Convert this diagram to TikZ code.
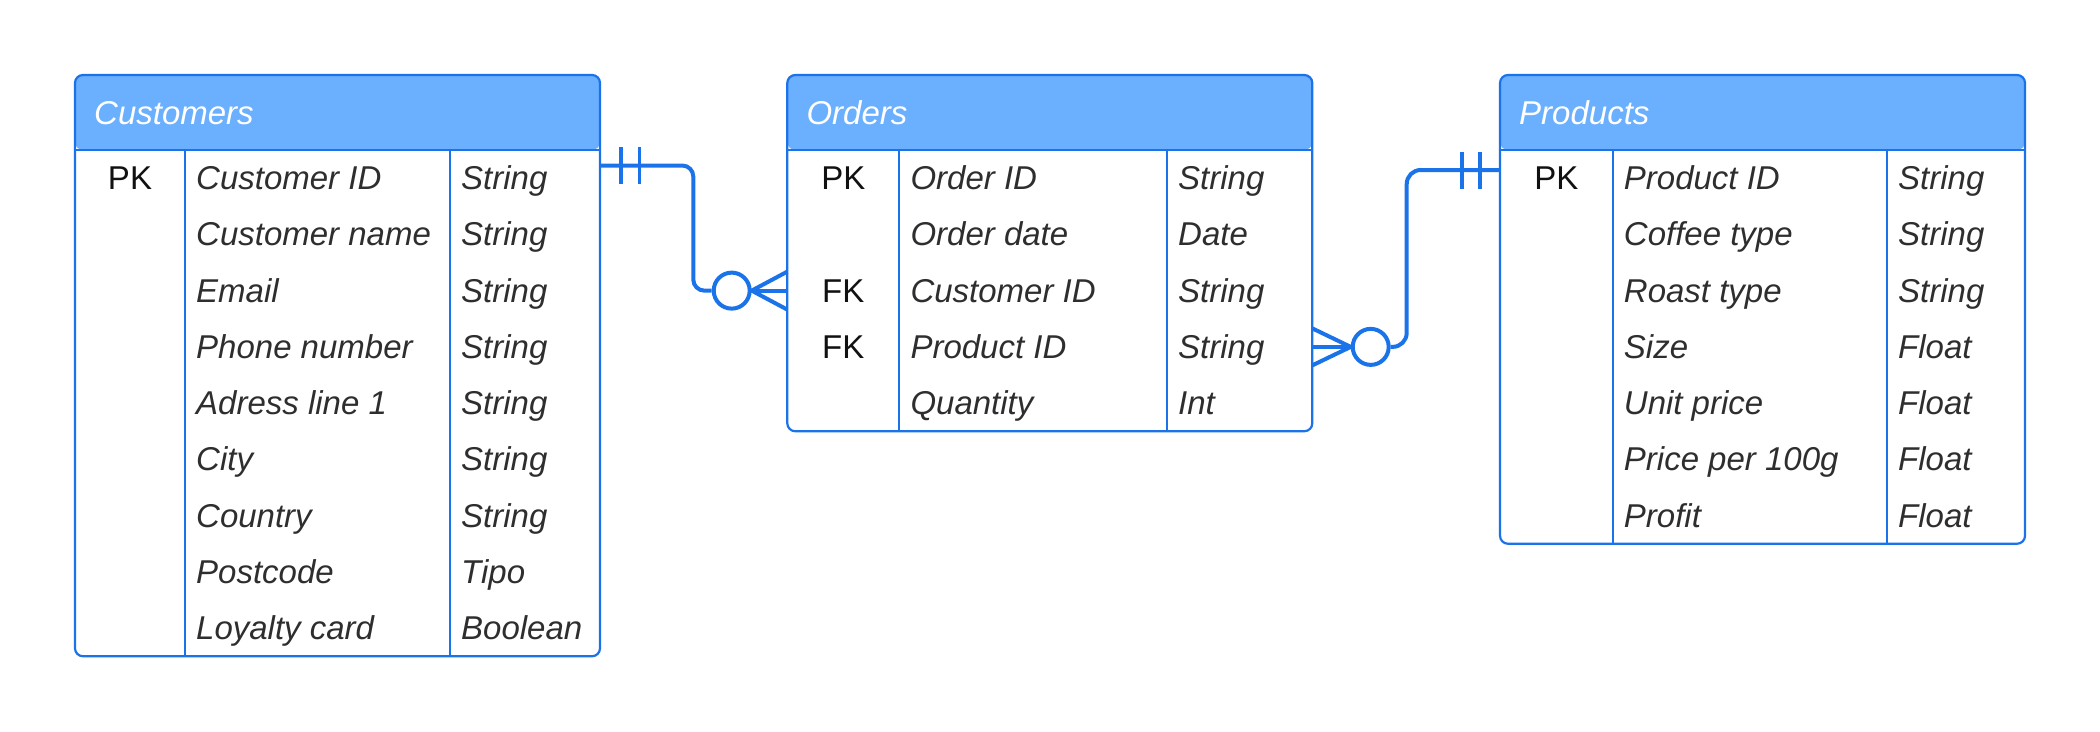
\documentclass[tikz,border=0pt]{standalone}
\usepackage{fontspec}
\setmainfont{Liberation Sans}
\definecolor{bord}{HTML}{1A73E8}
\definecolor{hfill}{HTML}{6BAFFF}
\definecolor{txtc}{HTML}{2E2E2E}
\definecolor{keyc}{HTML}{111111}
\newcommand\tabfont{\fontsize{33}{39}\selectfont}
\tikzset{
  tbl/.style={draw=bord, line width=2.2pt, rounded corners=8pt, anchor=north west,
    inner sep=0pt, outer sep=0pt,
    path picture={\fill[hfill] (path picture bounding box.north west) rectangle
      ([yshift=-75pt]path picture bounding box.north east);}},
  tline/.style={draw=bord, line width=2.2pt},
  hdtxt/.style={anchor=base west, text=white, font=\tabfont\itshape, inner sep=0pt},
  keytxt/.style={anchor=base, text=keyc, font=\tabfont, inner sep=0pt},
  fldtxt/.style={anchor=base west, text=txtc, font=\tabfont\itshape, inner sep=0pt},
  conn/.style={draw=bord, line width=4pt, line join=round},
  tick/.style={draw=bord, line width=3.6pt},
  optc/.style={circle, draw=bord, line width=4pt, minimum size=36pt, inner sep=0pt, fill=white}
}
% name, x-left, x-right, divider1, divider2, rows, title, fields
\newcommand\ertbl[8]{%
  \pgfmathsetmacro\tblb{150+#6*56.25}%
  \node[tbl, minimum width={(#3-#2)*1pt}, minimum height={(\tblb-75)*1pt}] (#1) at (#2,75) {};
  \draw[tline] (#2,150) -- (#3,150);
  \draw[tline] (#4,150) -- (#4,\tblb);
  \draw[tline] (#5,150) -- (#5,\tblb);
  \node[hdtxt] (#1-title) at (#2+19,124) {#7};
  \foreach \fn/\ft [count=\i] in {#8} {
    \pgfmathsetmacro\yc{150+(\i-0.5)*56.25}
    \coordinate (#1-w\i) at (#2,\yc);
    \coordinate (#1-e\i) at (#3,\yc);
    \node[fldtxt] (#1-n\i) at (#4+11,\yc+11.5) {\fn};
    \node[fldtxt] (#1-t\i) at (#5+11,\yc+11.5) {\ft};
  }
}
\begin{document}
\begin{tikzpicture}[x=1pt, y=-1pt]
\useasboundingbox (0,0) rectangle (2100,731);

\ertbl{cust}{75}{600}{185}{450}{9}{Customers}{Customer ID/String,Customer name/String,Email/String,Phone number/String,Adress line 1/String,City/String,Country/String,Postcode/Tipo,Loyalty card/Boolean}
\node[keytxt] (cust-k1) at (130,189.6) {PK};

\ertbl{ord}{787.3}{1312.3}{899.3}{1167}{5}{Orders}{Order ID/String,Order date/Date,Customer ID/String,Product ID/String,Quantity/Int}
\node[keytxt] (ord-k1) at (843.3,189.6) {PK};
\node[keytxt] (ord-k3) at (843.3,302.1) {FK};
\node[keytxt] (ord-k4) at (843.3,358.4) {FK};

\ertbl{prod}{1500}{2025}{1612.7}{1887}{7}{Products}{Product ID/String,Coffee type/String,Roast type/String,Size/Float,Unit price/Float,Price per 100g/Float,Profit/Float}
\node[keytxt] (prod-k1) at (1556.3,189.6) {PK};

% Customers -> Orders
\coordinate (c1a) at (cust.east |- 0,165.5);
\node[optc] (o1) at ([xshift=-55.6pt]ord-w3) {};
\draw[conn, rounded corners=11pt] (c1a) -| ([xshift=-18.4pt]o1.west) -- (o1.west);
\draw[tick] ([xshift=20.7pt,yshift=18.5pt]c1a) -- ([xshift=20.7pt,yshift=-18.5pt]c1a);
\draw[tick] ([xshift=39.3pt,yshift=18.5pt]c1a) -- ([xshift=39.3pt,yshift=-18.5pt]c1a);
\draw[conn] ([yshift=19pt]ord-w3) -- (o1.east) -- ([yshift=-19pt]ord-w3);
\draw[conn] (o1.east) -- (ord-w3);

% Orders -> Products
\coordinate (c2a) at (prod.west |- 0,170);
\node[optc] (o2) at ([xshift=58.4pt]ord-e4) {};
\draw[conn, rounded corners=14pt] (o2.east) -- ([xshift=16pt]o2.east) |- (c2a);
\draw[tick] ([xshift=-20pt,yshift=18.5pt]c2a) -- ([xshift=-20pt,yshift=-18.5pt]c2a);
\draw[tick] ([xshift=-38.3pt,yshift=18.5pt]c2a) -- ([xshift=-38.3pt,yshift=-18.5pt]c2a);
\draw[conn] ([yshift=18.5pt]ord-e4) -- (o2.west) -- ([yshift=-18.5pt]ord-e4);
\draw[conn] (o2.west) -- (ord-e4);
\end{tikzpicture}
\end{document}
